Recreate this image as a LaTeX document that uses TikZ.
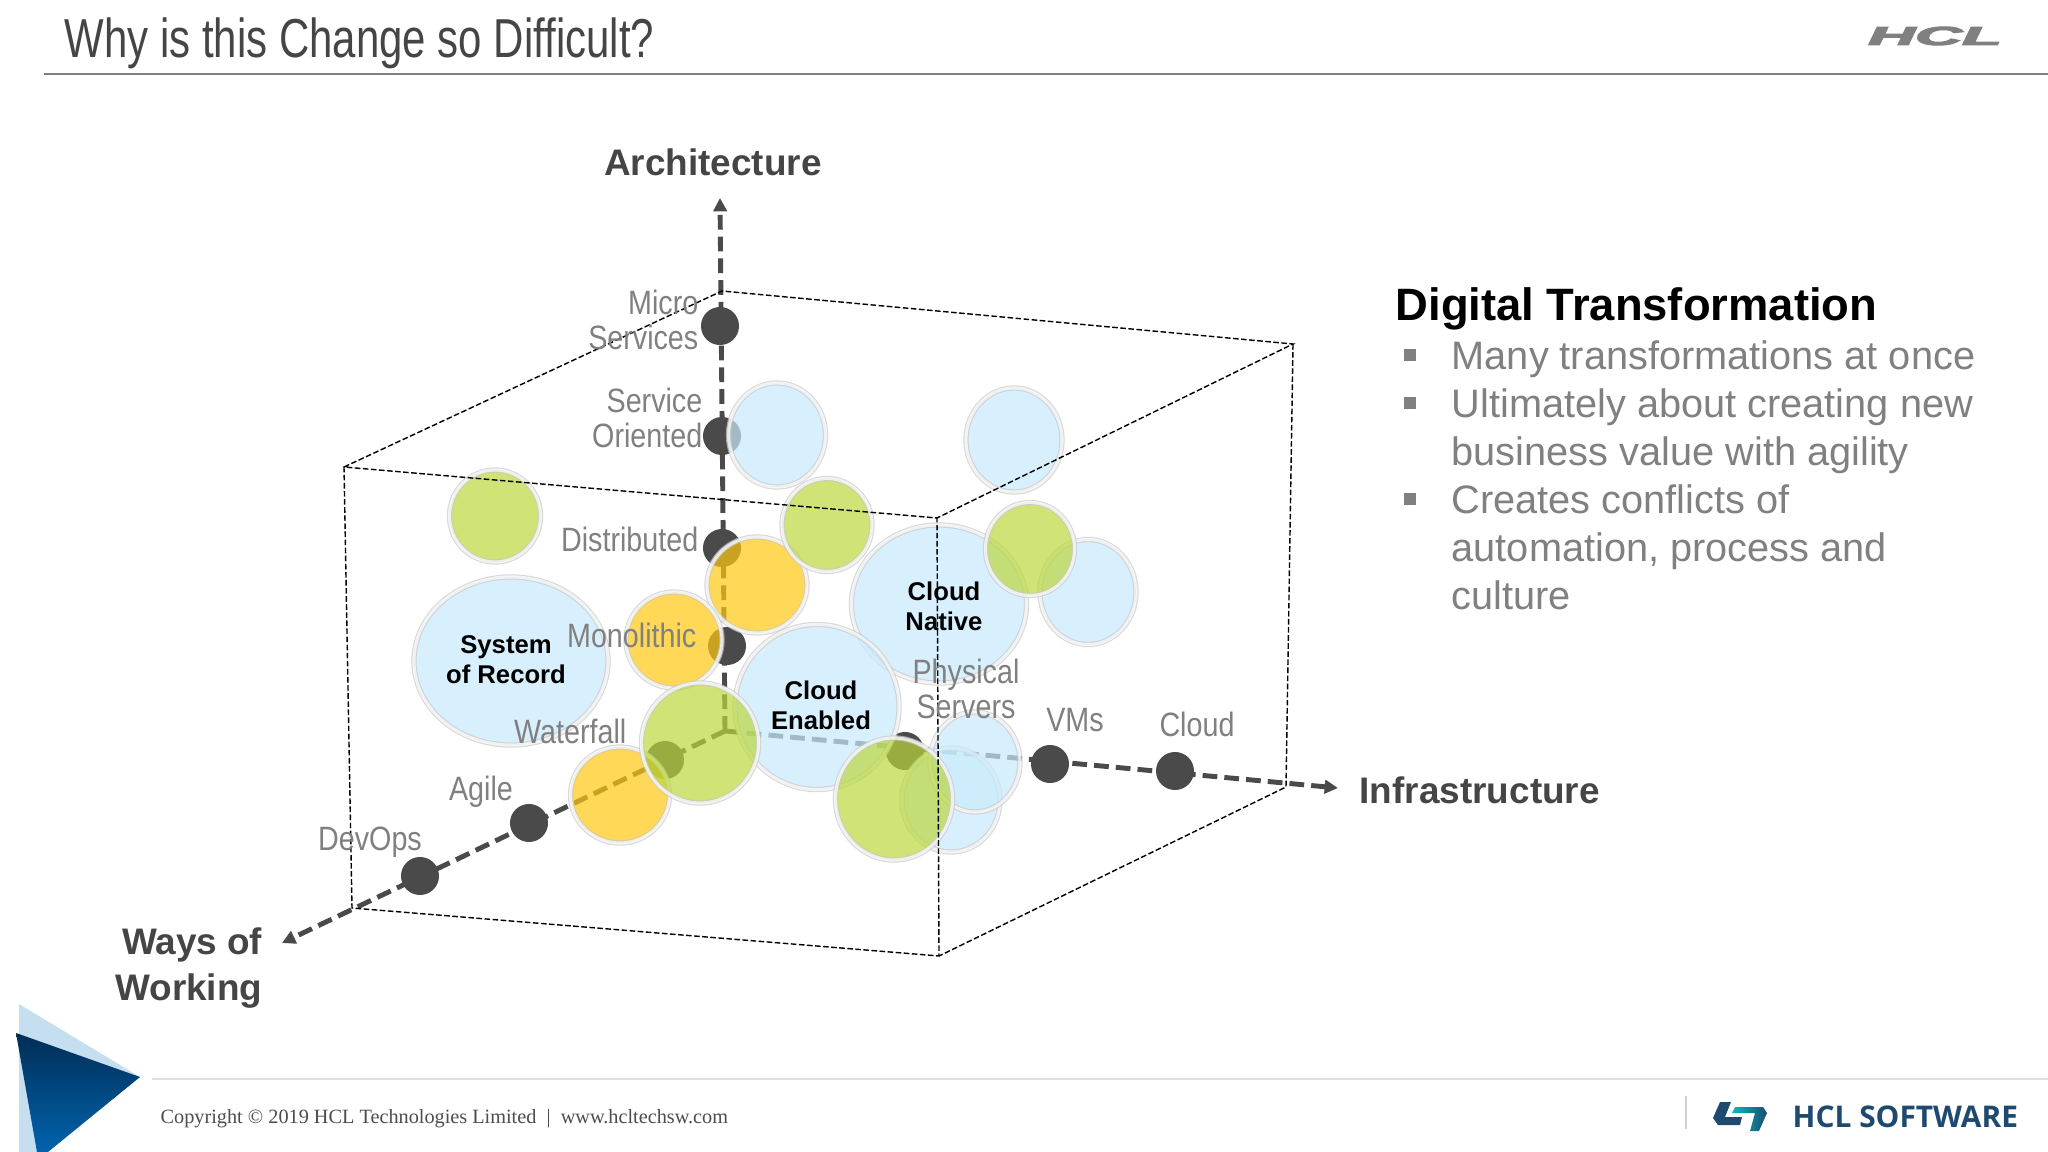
\documentclass[tikz,border=0pt]{standalone}
\usepackage{fontspec}
\setmainfont{Liberation Sans}
\newfontfamily\narrowfont[FakeStretch=0.765]{Liberation Sans}
\newfontfamily\labelfont[FakeStretch=0.85]{Liberation Sans}
\newfontfamily\footfont{Liberation Serif}
\newfontfamily\softfont{Open Sans}
\newfontfamily\logofont[UprightFont=* Bold Italic,FakeBold=4]{Liberation Sans}
\usetikzlibrary{arrows.meta,shapes.geometric}

\definecolor{darkdot}{HTML}{4A4A4A}
\definecolor{titlegray}{HTML}{454545}
\definecolor{textgray}{HTML}{808080}
\definecolor{bubbleblue}{HTML}{C8EAFC}
\definecolor{bubblegreen}{HTML}{BAD73D}
\definecolor{bubbleyellow}{HTML}{FFC810}
\definecolor{softblue}{HTML}{1F4A70}
\definecolor{trilight}{HTML}{C5DFF0}
\definecolor{tritop}{HTML}{022D55}
\definecolor{tribottom}{HTML}{0063AD}

\tikzset{
    cubeline/.style={black,line width=0.4pt,dash pattern=on 1.6pt off 0.7pt},
    axisline/.style={darkdot,line width=1.4pt,dash pattern=on 4.2pt off 2pt,-{Triangle[length=3.8pt,width=3.8pt]}},
    axisdot/.style={circle,fill=darkdot,minimum size=0.38cm,inner sep=0pt},
    bubble/.style n args={3}{ellipse,inner sep=0pt,minimum width=#1cm,minimum height=#2cm,
        fill=#3,draw=black!22,line width=0.3pt,double=white,double distance=0.9pt,opacity=0.7},
    axistitle/.style={inner sep=0pt,titlegray,font=\fontsize{10.5pt}{13pt}\selectfont\bfseries},
    axislabel/.style={inner sep=0pt,textgray,font=\labelfont\fontsize{9.6pt}{10pt}\selectfont},
    bubbletext/.style={inner sep=0pt,black,align=center,font=\fontsize{7.3pt}{8.6pt}\selectfont\bfseries},
    bullettext/.style={inner sep=0pt,textgray,anchor=north west,align=left,font=\fontsize{11.3pt}{13.6pt}\selectfont},
    bulletbox/.style={rectangle,fill=textgray,minimum size=0.12cm,inner sep=0pt},
}

\begin{document}
\begin{tikzpicture}[x=0.01cm,y=-0.01cm]
    \useasboundingbox (0,0) rectangle (2048,1152);

    % Header
    \node[inner sep=0pt,anchor=west,titlegray,font=\narrowfont\fontsize{15.6pt}{18pt}\selectfont] (title) at (64,43) {Why is this Change so Difficult?};
    \coordinate (headleft) at (44,74);
    \coordinate (headright) at (2048,74);
    \draw[textgray,line width=0.5pt] (headleft) -- (headright);
    \node[textgray,xscale=2.5,transform shape,font=\logofont\fontsize{7.4pt}{8pt}\selectfont] (hcl) at (1935,36) {HCL};

    % Axes
    \coordinate (origin) at (725,731);
    \coordinate (archend) at (720,198);
    \coordinate (wayend) at (282,943);
    \coordinate (infraend) at (1338,788);
    \draw[axisline] (origin) -- (archend);
    \draw[axisline] (origin) -- (wayend);
    \draw[axisline] (origin) -- (infraend);

    \node[axisdot] (micro) at (720,326) {};
    \node[axisdot] (soa) at (722,436) {};
    \node[axisdot] (dist) at (722,548) {};
    \node[axisdot] (mono) at (727,646) {};
    \node[axisdot] (water) at (665,760) {};
    \node[axisdot] (agile) at (529,823) {};
    \node[axisdot] (devops) at (420,876) {};
    \node[axisdot] (phys) at (905,751) {};
    \node[axisdot] (vms) at (1050,764) {};
    \node[axisdot] (cloud) at (1175,771) {};

    % Blue bubbles
    \node[bubble={1.94}{1.68}{bubbleblue}] (sor) at (511,661) {};
    \node[bubble={0.97}{1.04}{bubbleblue}] (bluea) at (777,435) {};
    \node[bubble={0.96}{1.04}{bubbleblue}] (blueb) at (1014,440) {};
    \node[bubble={0.96}{1.05}{bubbleblue}] (bluec) at (1088,592) {};
    \node[bubble={1.75}{1.58}{bubbleblue}] (native) at (939,604) {};
    \node[bubble={1.64}{1.65}{bubbleblue}] (enabled) at (817,707) {};
    \node[bubble={0.98}{1.04}{bubbleblue}] (bluee) at (951,800) {};
    \node[bubble={0.90}{1.00}{bubbleblue}] (blued) at (975,762) {};

    % Yellow bubbles
    \node[bubble={1.00}{0.96}{bubbleyellow}] (yellowa) at (757,585) {};
    \node[bubble={0.96}{0.96}{bubbleyellow}] (yellowb) at (674,640) {};
    \node[bubble={0.99}{0.96}{bubbleyellow}] (yellowc) at (620,795) {};

    % Green bubbles
    \node[bubble={0.91}{0.92}{bubblegreen}] (greena) at (495,516) {};
    \node[bubble={0.90}{0.93}{bubblegreen}] (greenb) at (827,525) {};
    \node[bubble={0.89}{0.93}{bubblegreen}] (greenc) at (1030,549) {};
    \node[bubble={1.17}{1.20}{bubblegreen}] (greend) at (700,743) {};
    \node[bubble={1.17}{1.22}{bubblegreen}] (greene) at (894,799) {};

    % Cube
    \coordinate (backtl) at (722,291);
    \coordinate (backtr) at (1293,344);
    \coordinate (backbr) at (1286,787);
    \coordinate (fronttl) at (344,467);
    \coordinate (fronttr) at (937,518);
    \coordinate (frontbl) at (352,908);
    \coordinate (frontbr) at (939,956);
    \draw[cubeline] (fronttl) -- (backtl) -- (backtr) -- (fronttr) -- (fronttl) -- (frontbl) -- (frontbr) -- (fronttr);
    \draw[cubeline] (backtr) -- (backbr) -- (frontbr);

    % Bubble names
    \node[bubbletext] (sortext) at (506,660) {System\\of Record};
    \node[bubbletext] (nativetext) at (944,606) {Cloud\\Native};
    \node[bubbletext] (enabledtext) at (821,705) {Cloud\\Enabled};

    % Axis labels
    \node[axislabel,anchor=east,align=right] (microtext) at (699,320) {Micro\\Services};
    \node[axislabel,anchor=east,align=right] (soatext) at (703,418) {Service\\Oriented};
    \node[axislabel,anchor=east] (disttext) at (699,539) {Distributed};
    \node[axislabel,anchor=east] (monotext) at (697,635) {Monolithic};
    \node[axislabel,anchor=east] (watertext) at (627,731) {Waterfall};
    \node[axislabel] (agiletext) at (481,792) {Agile};
    \node[axislabel] (devopstext) at (370,842) {DevOps};
    \node[axislabel,align=center] (phystext) at (966,689) {Physical\\Servers};
    \node[axislabel] (vmstext) at (1075,720) {VMs};
    \node[axislabel] (cloudtext) at (1197,724) {Cloud};

    % Axis titles
    \node[axistitle] (arch) at (713,162) {Architecture};
    \node[axistitle,anchor=west] (infra) at (1359,790) {Infrastructure};
    \node[axistitle,anchor=east,align=right] (ways) at (263,968) {Ways of\\Working};

    % Right text
    \node[inner sep=0pt,anchor=west,black,font=\fontsize{12.9pt}{15pt}\selectfont\bfseries] (digital) at (1395,309) {Digital Transformation};
    \node[bulletbox] (bulleta) at (1410,355) {};
    \node[bulletbox] (bulletb) at (1410,403) {};
    \node[bulletbox] (bulletc) at (1410,499) {};
    \node[bullettext] (itema) at (1451,340) {Many transformations at once};
    \node[bullettext] (itemb) at (1451,388) {Ultimately about creating new\\business value with agility};
    \node[bullettext] (itemc) at (1451,484) {Creates conflicts of\\automation, process and\\culture};

    % Footer
    \coordinate (footleft) at (152,1079);
    \coordinate (footright) at (2048,1079);
    \draw[black!13,line width=0.5pt] (footleft) -- (footright);
    \fill[trilight] (19,1004) -- (140,1077) -- (45,1152) -- (19,1152) -- cycle;
    \shade[top color=tritop,bottom color=tribottom] (16,1033) -- (140,1077) -- (48,1152) -- (37,1152) -- cycle;
    \node[inner sep=0pt,anchor=west,black!70,font=\footfont\fontsize{5.76pt}{7pt}\selectfont] (copy) at (160,1119) {Copyright © 2019 HCL Technologies Limited~~|~~www.hcltechsw.com};
    \coordinate (logotop) at (1686,1096);
    \coordinate (logobot) at (1686,1129);
    \draw[black!18,line width=0.4pt] (logotop) -- (logobot);
    \fill[softblue] (1720,1102) -- (1731,1102) -- (1725,1117) -- (1742,1117) -- (1740,1125) -- (1718,1125) -- (1713,1118) -- cycle;
    \shade[left color=cyan!50!teal,right color=softblue] (1735,1107) -- (1763,1107) -- (1767,1113) -- (1759,1131) -- (1750,1131) -- (1755,1113) -- (1732,1113) -- cycle;
    \node[inner sep=0pt,anchor=west,softblue,font=\softfont\fontsize{8.5pt}{10pt}\selectfont\bfseries] (soft) at (1792,1117) {HCL SOFTWARE};
\end{tikzpicture}
\end{document}
